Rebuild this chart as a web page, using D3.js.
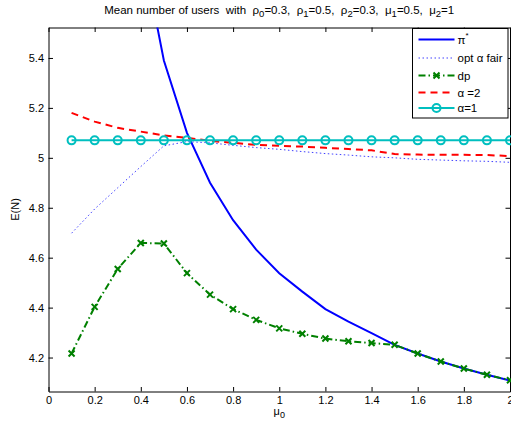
<!DOCTYPE html>
<html>
<head>
<meta charset="utf-8">
<script src="https://cdn.jsdelivr.net/npm/d3@7"></script>
<style>
  body { margin: 0; background: #fff; }
  text { font-family: "Liberation Sans", Arial, sans-serif; white-space: pre; }
</style>
</head>
<body>
<div id="chart"></div>
<script>
// mu_0 values on the x axis
var mu0 = [0.1, 0.2, 0.3, 0.4, 0.5, 0.6, 0.7, 0.8, 0.9, 1.0,
           1.1, 1.2, 1.3, 1.4, 1.5, 1.6, 1.7, 1.8, 1.9, 2.0];

// series (E(N) values)
var piStar  = [12.0, 8.0, 6.6, 5.86, 5.39, 5.10, 4.90, 4.75, 4.632, 4.538,
               4.464, 4.394, 4.344, 4.298, 4.251, 4.216, 4.184, 4.156, 4.131, 4.108];
var optFair = [4.698, 4.795, 4.88, 4.965, 5.048, 5.065, 5.06, 5.05, 5.041, 5.034,
               5.025, 5.017, 5.011, 5.004, 5.0, 4.994, 4.991, 4.988, 4.986, 4.982];
var dp      = [4.216, 4.403, 4.555, 4.659, 4.657, 4.538, 4.452, 4.394, 4.351, 4.317,
               4.295, 4.276, 4.265, 4.258, 4.251, 4.216, 4.184, 4.156, 4.131, 4.109];
var alpha2  = [5.18, 5.145, 5.12, 5.105, 5.09, 5.08, 5.068, 5.06, 5.052, 5.048,
               5.045, 5.04, 5.035, 5.03, 5.015, 5.013, 5.012, 5.012, 5.011, 5.007];
var alpha1  = [5.07, 5.07, 5.07, 5.07, 5.07, 5.07, 5.07, 5.07, 5.07, 5.07,
               5.07, 5.07, 5.07, 5.07, 5.07, 5.07, 5.07, 5.07, 5.07, 5.07];

var xTicks = [0, 0.2, 0.4, 0.6, 0.8, 1, 1.2, 1.4, 1.6, 1.8, 2];
var yTicks = [4.2, 4.4, 4.6, 4.8, 5, 5.2, 5.4];

var W = 511, H = 426;
var margin = { left: 48.5, right: 1, top: 27.5, bottom: 34.5 };
var width = W - margin.left - margin.right;
var height = H - margin.top - margin.bottom;
var fs = 11;

var svg = d3.select("#chart").append("svg")
    .attr("width", W)
    .attr("height", H);

var x = d3.scaleLinear().domain([0, 2]).range([0, width]);
var y = d3.scaleLinear().domain([4.064, 5.522]).range([height, 0]);

var g = svg.append("g")
    .attr("transform", "translate(" + margin.left + "," + margin.top + ")");

g.append("rect").attr("width", width).attr("height", height).attr("fill", "#fff");

svg.append("defs").append("clipPath").attr("id", "clip")
  .append("rect").attr("width", width).attr("height", height);

// axes with inward ticks, mirrored on top/right
var tl = 4.5;
g.append("g").attr("transform", "translate(0," + height + ")")
    .call(d3.axisBottom(x).tickValues(xTicks).tickSizeInner(-tl).tickSizeOuter(0).tickPadding(4.5).tickFormat(d3.format("")));
g.append("g")
    .call(d3.axisTop(x).tickValues(xTicks).tickSizeInner(-tl).tickSizeOuter(0).tickFormat(""));
g.append("g")
    .call(d3.axisLeft(y).tickValues(yTicks).tickSizeInner(-tl).tickSizeOuter(0).tickPadding(4.5).tickFormat(d3.format("")));
g.append("g").attr("transform", "translate(" + width + ",0)")
    .call(d3.axisRight(y).tickValues(yTicks).tickSizeInner(-tl).tickSizeOuter(0).tickFormat(""));

g.selectAll(".domain").attr("stroke", "#000");
g.selectAll(".tick line").attr("stroke", "#000");
g.selectAll(".tick text").attr("font-size", fs).attr("fill", "#000")
    .style("font-family", "Liberation Sans, Arial, sans-serif");

// series
var series = [
  { name: "pi",   vals: piStar,  color: "#0000ff", w: 2,   dash: null,        marker: null },
  { name: "fair", vals: optFair, color: "#4040ff", w: 1,   dash: "1.5,2.5",   marker: null },
  { name: "dp",   vals: dp,      color: "#008000", w: 2,   dash: "7,3,1.5,3", marker: "x" },
  { name: "a2",   vals: alpha2,  color: "#ff0000", w: 2,   dash: "7,5",       marker: null },
  { name: "a1",   vals: alpha1,  color: "#00bfbf", w: 2,   dash: null,        marker: "o" }
];

var line = d3.line()
    .x(function(d) { return x(d[0]); })
    .y(function(d) { return y(d[1]); });

var plot = g.append("g").attr("clip-path", "url(#clip)");

function drawMarker(sel, type, color) {
  if (type === "o") {
    sel.append("circle").attr("r", 4).attr("fill", "none")
      .attr("stroke", color).attr("stroke-width", 2);
  } else if (type === "x") {
    sel.append("path").attr("d", "M-3,-3L3,3M-3,3L3,-3")
      .attr("stroke", color).attr("stroke-width", 2).attr("fill", "none");
  }
}

series.forEach(function(s) {
  var pts = mu0.map(function(m, i) { return [m, s.vals[i]]; });
  plot.append("path")
    .datum(pts)
    .attr("d", line)
    .attr("fill", "none")
    .attr("stroke", s.color)
    .attr("stroke-width", s.w)
    .attr("stroke-dasharray", s.dash);
  if (s.marker) {
    g.selectAll(".m-" + s.name).data(pts).enter().append("g")
      .attr("class", "m-" + s.name)
      .attr("transform", function(d) { return "translate(" + x(d[0]) + "," + y(d[1]) + ")"; })
      .each(function() { drawMarker(d3.select(this), s.marker, s.color); });
  }
});

// title
var title = svg.append("text")
    .attr("x", margin.left + width / 2)
    .attr("y", 14)
    .attr("text-anchor", "middle")
    .attr("font-size", 11.5);
var parts = ["Mean number of users  with  \u03c1", "0", "=0.3,  \u03c1", "1", "=0.5,  \u03c1", "2",
             "=0.3,  \u03bc", "1", "=0.5,  \u03bc", "2", "=1"];
parts.forEach(function(p, i) {
  var t = title.append("tspan").text(p);
  if (i % 2 === 1) { t.attr("dy", 3).attr("font-size", 9.5); }
  else if (i > 0) { t.attr("dy", -3); }
});

// axis labels
var xl = svg.append("text")
    .attr("x", margin.left + width / 2)
    .attr("y", 415)
    .attr("text-anchor", "middle")
    .attr("font-size", fs);
xl.append("tspan").text("\u03bc");
xl.append("tspan").attr("dy", 3).attr("font-size", 9).text("0");

svg.append("text")
    .attr("transform", "translate(19," + (margin.top + height / 2) + ") rotate(-90)")
    .attr("text-anchor", "middle")
    .attr("font-size", fs)
    .text("E(N)");

// legend
var leg = svg.append("g").attr("transform", "translate(412.5,28.5)");
leg.append("rect").attr("width", 95.5).attr("height", 89.5)
    .attr("fill", "#fff").attr("stroke", "#000").attr("stroke-width", 1);

var labels = ["\u03c0", "opt \u03b1 fair", "dp", "\u03b1 =2", "\u03b1=1"];
var rowY = [11, 29.5, 47, 64, 79.5];

series.forEach(function(s, i) {
  var row = leg.append("g").attr("transform", "translate(0," + rowY[i] + ")");
  row.append("line").attr("x1", 6).attr("x2", 42)
    .attr("stroke", s.color).attr("stroke-width", s.w)
    .attr("stroke-dasharray", s.dash);
  if (s.marker) {
    drawMarker(row.append("g").attr("transform", "translate(24,0)"), s.marker, s.color);
  }
  var t = row.append("text").attr("x", 45).attr("y", 4).attr("font-size", 11.5).text(labels[i]);
  if (i === 0) t.append("tspan").attr("dy", -6).attr("font-size", 8).text("*");
});
</script>
</body>
</html>
